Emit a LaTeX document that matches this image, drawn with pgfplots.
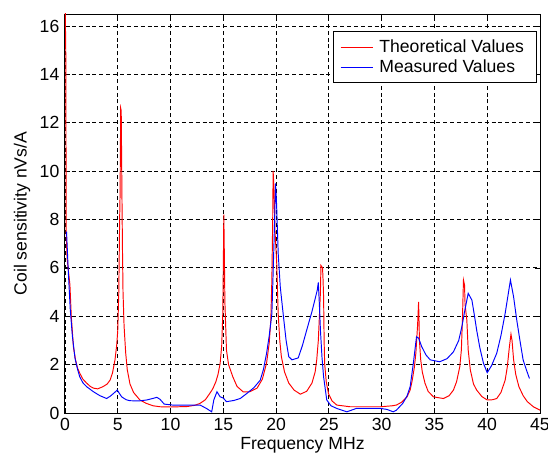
\documentclass[border=0pt]{standalone}
\usepackage{fontspec}
\setmainfont{Liberation Sans}
\usepackage{pgfplots}
\pgfplotsset{compat=1.18}
\usetikzlibrary{calc}
\begin{document}
\begin{tikzpicture}
\begin{axis}[
  scale only axis,
  width=296.9pt, height=249.4pt,
  xmin=0, xmax=45, ymin=0, ymax=16.5,
  xtick={0,5,...,45}, ytick={0,2,...,16},
  tick align=inside,
  xtick pos=both, ytick pos=both,
  major tick length=3pt,
  grid=major,
  major grid style={black, dash pattern=on 2.5pt off 1.8pt, line width=0.55pt},
  axis line style={black, line width=0.6pt},
  tick style={black, line width=0.5pt},
  /pgf/number format/assume math mode=true,
  ticklabel style={font=\fontsize{11}{13}\selectfont},
  xlabel={Frequency MHz}, ylabel={Coil sensitivity nVs/A},
  label style={font=\fontsize{11}{13}\selectfont},
  xlabel style={yshift=3pt},
  ylabel style={yshift=-1pt},
  legend style={at={(0.994,0.957)}, anchor=north east, draw=black, line width=0.6pt,
    font=\fontsize{11}{12}\selectfont, inner xsep=4pt, inner ysep=3pt, row sep=-1pt,
    nodes={inner xsep=4pt}},
  legend cell align=left,
  legend image code/.code={\draw[#1] (0pt,0pt) -- (20pt,0pt);},
  clip=true,
]
\coordinate (bl) at (rel axis cs:0,0);
\coordinate (tr) at (rel axis cs:1,1);
\addplot[red, line width=0.6pt] coordinates {
(0.02,17)(0.08,14.8)(0.12,7.4)(0.2,6.4)(0.3,6.0)(0.47,5.3)(0.6,4.0)(0.8,2.74)(1.0,2.2)
(1.2,1.85)(1.4,1.65)(1.7,1.4)(2.05,1.24)(2.4,1.1)(2.7,1.03)(3.1,1.0)(3.6,1.09)(4.0,1.2)
(4.27,1.36)(4.5,1.65)(4.74,2.2)(4.9,2.8)(5.0,3.4)(5.1,5.0)(5.18,8.0)(5.22,9.0)(5.28,12.6)
(5.33,12.5)(5.4,8.9)(5.45,6.7)(5.5,5.0)(5.6,3.6)(5.75,2.5)(5.9,1.8)(6.16,1.2)(6.5,0.85)
(7.1,0.54)(7.7,0.4)(8.35,0.3)(9,0.26)(10,0.25)(11.6,0.27)(12.3,0.32)(12.8,0.4)(13.3,0.55)
(13.7,0.8)(14.0,1.0)(14.3,1.3)(14.5,1.6)(14.7,2.05)(14.85,2.8)(14.95,4.1)(15.0,6)
(15.05,8.2)(15.1,6.5)(15.15,4.6)(15.3,2.6)(15.5,2.0)(15.9,1.5)(16.3,1.1)(16.9,0.87)
(17.5,0.88)(18.2,1.03)(18.7,1.4)(19.1,2.07)(19.35,2.9)(19.5,3.84)(19.6,5.5)(19.68,8)
(19.72,10.0)(19.8,9.3)(19.9,7.5)(20.06,6.2)(20.2,4.1)(20.35,3.0)(20.5,2.33)(20.8,1.7)
(21.2,1.24)(21.7,0.95)(22.3,0.78)(22.9,0.9)(23.4,1.24)(23.7,1.7)(23.85,2.2)(24.0,3.0)
(24.1,3.98)(24.2,5.0)(24.25,6.1)(24.4,6.0)(24.45,5.5)(24.5,4.8)(24.55,3.0)(24.6,2.05)
(24.75,1.3)(24.96,0.81)(25.3,0.5)(25.75,0.33)(27,0.26)(29.9,0.26)(31.0,0.3)(31.4,0.33)
(31.9,0.45)(32.4,0.67)(32.7,0.95)(32.9,1.36)(33.1,1.9)(33.24,2.47)(33.4,3.6)(33.5,4.6)
(33.58,3.0)(33.7,2.2)(33.85,1.7)(34.1,1.24)(34.4,0.9)(34.9,0.67)(35.85,0.6)(36.4,0.72)
(36.8,0.95)(37.1,1.3)(37.4,1.91)(37.55,2.6)(37.65,3.84)(37.75,5.5)(37.85,5.3)(37.9,4.5)
(38.07,3.84)(38.2,2.6)(38.4,1.78)(38.7,1.2)(39.0,0.95)(39.5,0.68)(40,0.54)(40.5,0.55)
(40.9,0.6)(41.3,0.85)(41.7,1.36)(41.9,1.9)(42.1,2.74)(42.25,3.26)(42.35,3.0)(42.5,2.2)
(42.7,1.6)(43.0,1.09)(43.4,0.72)(43.8,0.47)(44.4,0.25)(45,0.12)
};
\addlegendentry{Theoretical Values}
\addplot[blue, line width=0.6pt] coordinates {
(0.15,7.5)(0.3,6.0)(0.5,4.3)(0.7,3.2)(0.95,2.27)(1.2,1.8)(1.4,1.5)(1.7,1.25)(2.05,1.09)
(2.7,0.88)(3.3,0.72)(3.95,0.6)(4.3,0.7)(4.6,0.81)(4.96,0.95)(5.1,0.85)(5.37,0.67)(5.8,0.55)
(6.16,0.51)(7.0,0.5)(7.74,0.54)(8.3,0.6)(8.7,0.65)(9,0.57)(9.4,0.37)(10.2,0.33)(10.9,0.33)
(12.8,0.33)(13.4,0.19)(13.9,0.05)(14.1,0.54)(14.4,0.88)(14.7,0.67)(15.0,0.62)(15.3,0.47)
(16.0,0.52)(16.6,0.6)(17.2,0.8)(17.9,1.05)(18.5,1.36)(18.8,1.8)(19.1,2.47)(19.35,3.2)
(19.6,4.1)(19.7,5.5)(19.8,7.0)(19.95,9.5)(20.05,8.6)(20.2,6.6)(20.4,5.2)(20.7,3.98)
(20.95,3.0)(21.2,2.33)(21.5,2.2)(22.1,2.28)(22.5,2.8)(22.9,3.43)(23.4,4.2)(23.9,5.08)
(24.0,5.4)(24.1,4.5)(24.2,3.43)(24.35,2.3)(24.5,1.5)(24.8,0.54)(25.2,0.3)(25.75,0.19)
(26.7,0.05)(27.6,0.19)(29.9,0.19)(30.5,0.15)(31.1,0.05)(31.4,0.12)(32.0,0.4)(32.4,0.7)
(32.7,1.09)(33.0,2.05)(33.3,3.15)(33.5,3.1)(33.8,2.74)(34.2,2.4)(34.6,2.2)(35.5,2.12)
(36.2,2.25)(36.8,2.53)(37.3,3.0)(37.6,3.57)(37.9,4.3)(38.2,4.95)(38.55,4.67)(38.8,4.0)
(39.0,3.43)(39.3,2.7)(39.65,2.05)(40.0,1.67)(40.4,1.95)(40.9,2.47)(41.3,3.2)(41.7,4.12)
(42.2,5.5)(42.5,4.8)(42.8,3.84)(43.1,3.0)(43.4,2.2)(43.7,1.8)(44.0,1.43)
};
\addlegendentry{Measured Values}
\end{axis}
\pgfresetboundingbox
\path[use as bounding box] ($(bl)+(-40.6pt,-28.1pt)$) rectangle ($(tr)+(5pt,8.75pt)$);
\end{tikzpicture}
\end{document}
